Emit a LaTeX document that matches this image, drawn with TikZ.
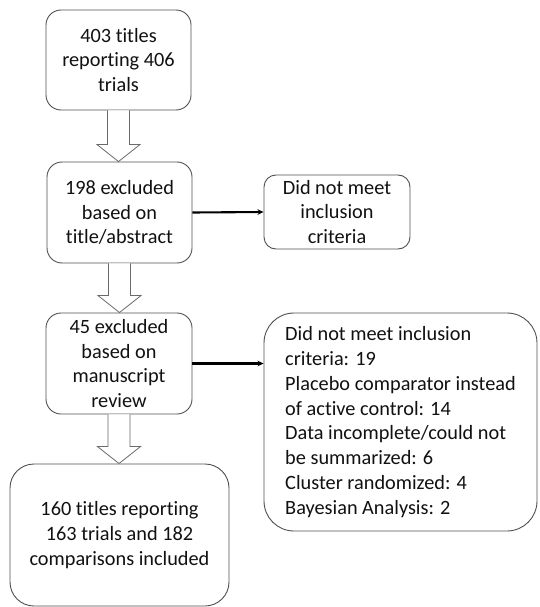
\documentclass[tikz,border=0pt]{standalone}
\usepackage{fontspec}
\setmainfont[Ligatures={NoCommon}]{Carlito}
\usetikzlibrary{calc,arrows.meta}
\definecolor{boxline}{HTML}{505050}
\definecolor{txt}{HTML}{111111}
\tikzset{
  box/.style={draw=boxline, line width=0.9pt, fill=white, inner sep=0pt, align=center,
    text=txt, font=\fontsize{20.3}{24.8}\selectfont},
  blockarrow/.style={draw=boxline!85, line width=0.8pt, fill=white, line join=miter},
  sidearrow/.style={draw=black, line width=2.1pt, -{Stealth[length=6pt,width=5.5pt]}}
}
\newcommand{\blockarr}[2]{%
  \draw[blockarrow] let \p1=(#1.south), \p2=(#2.north) in
    (\x1-11pt,\y1) -- (\x1-11pt,\y2+17pt) -- (\x1-21.5pt,\y2+17pt) -- (\x1,\y2)
    -- (\x1+21.5pt,\y2+17pt) -- (\x1+11pt,\y2+17pt) -- (\x1+11pt,\y1);}
\begin{document}
\begin{tikzpicture}[x=1pt,y=-1pt]
\useasboundingbox (0,0) rectangle (539,607);
\node[box, rounded corners=15pt, minimum width=145pt, minimum height=100pt] (b1) at (118.5,60)
  {403 titles\\reporting 406\\trials};
\node[box, rounded corners=15pt, minimum width=145pt, minimum height=101pt] (b2) at (119.5,212.5)
  {198 excluded\\based on\\title/abstract};
\node[box, rounded corners=15pt, minimum width=146pt, minimum height=101pt] (b3) at (119,363.5)
  {45 excluded\\based on\\manuscript\\review};
\node[box, rounded corners=24pt, minimum width=219pt, minimum height=142pt] (b4) at (119.5,535)
  {160 titles reporting\\163 trials and 182\\comparisons included};
\node[box, rounded corners=12pt, minimum width=146pt, minimum height=74pt] (s1) at (337,212)
  {Did not meet\\inclusion\\criteria};
\node[box, align=left, rounded corners=30pt, minimum width=273pt, minimum height=218pt] (s2) at (400.5,422)
  {Did not meet inclusion\\criteria: 19\\Placebo comparator instead\\of active control: 14\\Data incomplete/could not\\be summarized: 6\\Cluster randomized: 4\\Bayesian Analysis: 2};
\blockarr{b1}{b2}
\blockarr{b2}{b3}
\blockarr{b3}{b4}
\draw[sidearrow] (b2.east) -- (s1.west);
\draw[sidearrow] (b3.east) -- (b3.east -| s2.west);
\end{tikzpicture}
\end{document}
